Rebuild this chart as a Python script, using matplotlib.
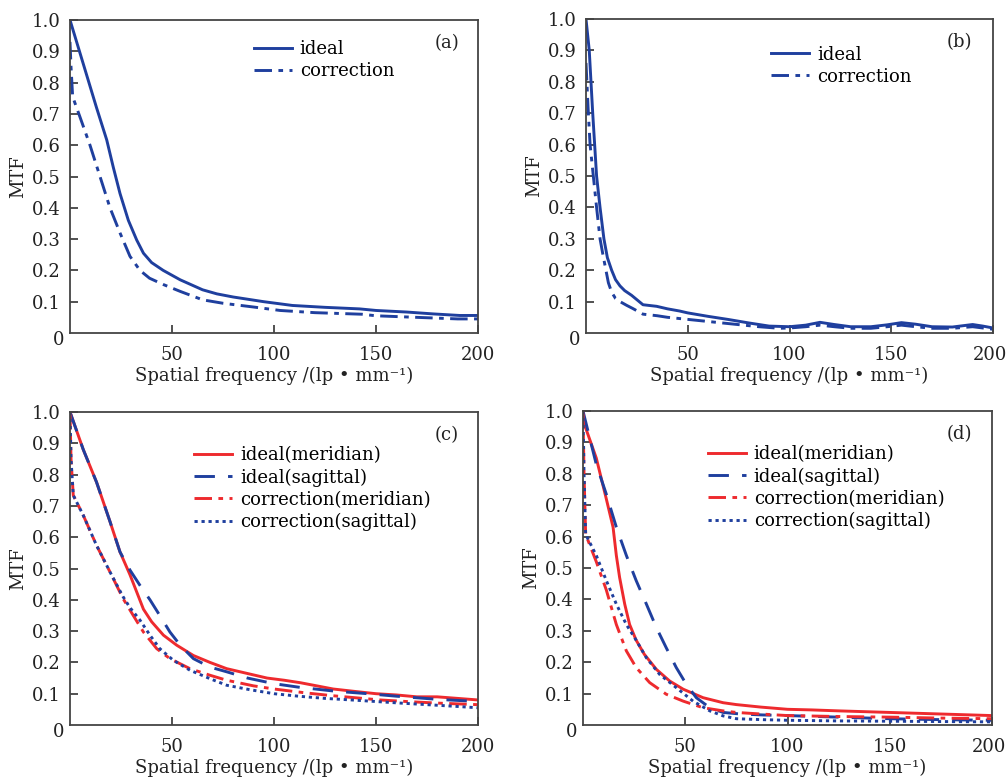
import matplotlib
matplotlib.use("Agg")
import matplotlib.pyplot as plt
import matplotlib.transforms as mtransforms
from matplotlib.ticker import FixedLocator, FixedFormatter

plt.rcParams['font.family'] = ['DejaVu Serif']

BLUE = '#1f3f9e'
RED = '#ee2a2e'

# ---------------- data ----------------
# (a)
a_ideal_f = [0, 6.5, 13, 18, 21.2, 24.5, 28.6, 32.7, 36, 40, 45.7, 54, 65, 72, 80, 95, 109, 125, 142, 150, 165, 178, 191, 200]
a_ideal_v = [1.0, 0.86, 0.72, 0.617, 0.53, 0.446, 0.36, 0.297, 0.255, 0.225, 0.2, 0.17, 0.138, 0.125, 0.115, 0.1, 0.088, 0.082, 0.077, 0.072, 0.067, 0.061, 0.056, 0.056]
a_corr_f = [0, 0.5, 1.3, 4.9, 9.8, 14.7, 19.6, 24.5, 29.4, 34.3, 39, 45.7, 54, 65, 75, 90, 103, 120, 143, 150, 170, 190, 200]
a_corr_v = [0.93, 0.85, 0.755, 0.69, 0.6, 0.5, 0.4, 0.32, 0.245, 0.2, 0.175, 0.155, 0.133, 0.106, 0.095, 0.083, 0.072, 0.065, 0.06, 0.055, 0.05, 0.045, 0.045]

# (b)
b_ideal_f = [0, 1.6, 3.3, 5.2, 6.9, 8.8, 10.5, 12.6, 14.5, 16.7, 19, 22.4, 28, 34.7, 40, 46, 50, 60, 70, 80, 90, 100,
             108, 115, 122, 130, 140, 148, 155, 162, 170, 180, 185, 190, 195, 200]
b_ideal_v = [1.0, 0.9, 0.7, 0.5, 0.4, 0.3, 0.24, 0.2, 0.17, 0.15, 0.135, 0.12, 0.09, 0.085, 0.077, 0.07, 0.064, 0.053, 0.043, 0.032, 0.022, 0.02,
             0.025, 0.034, 0.027, 0.02, 0.02, 0.026, 0.033, 0.028, 0.02, 0.019, 0.023, 0.027, 0.022, 0.016]
b_corr_f = [0, 1, 2, 3.6, 5.2, 6.9, 8.3, 9.8, 11, 12.6, 14.5, 16.7, 20, 23, 28, 35, 40, 55, 70, 85, 95, 100,
            108, 115, 122, 130, 140, 148, 155, 162, 170, 180, 190, 200]
b_corr_v = [0.86, 0.72, 0.6, 0.5, 0.4, 0.3, 0.25, 0.2, 0.16, 0.13, 0.11, 0.1, 0.088, 0.078, 0.06, 0.055, 0.05, 0.04, 0.03, 0.02, 0.015, 0.016,
            0.02, 0.025, 0.02, 0.015, 0.015, 0.02, 0.025, 0.02, 0.015, 0.015, 0.02, 0.012]

# (c)
c_im_f = [0, 6.5, 13, 19.6, 24.5, 29.4, 32.7, 36, 40, 45.8, 52.3, 60.5, 68.6, 76.8, 88, 96.6, 105, 113, 121, 129, 140, 150, 160, 170, 180, 190, 200]
c_im_v = [1.0, 0.88, 0.776, 0.65, 0.553, 0.48, 0.425, 0.37, 0.33, 0.287, 0.255, 0.222, 0.2, 0.18, 0.163, 0.15, 0.143, 0.135, 0.125, 0.115, 0.107, 0.1, 0.096, 0.09, 0.09, 0.085, 0.08]
c_is_f = [0, 6.5, 13, 19.6, 24.5, 29.4, 34.3, 39.2, 44, 49, 54, 60.5, 68.6, 76.8, 87, 100, 113, 130, 146, 160, 180, 200]
c_is_v = [1.0, 0.88, 0.776, 0.65, 0.553, 0.495, 0.446, 0.4, 0.35, 0.297, 0.255, 0.212, 0.185, 0.17, 0.15, 0.132, 0.12, 0.108, 0.1, 0.092, 0.082, 0.075]
c_cm_f = [0, 0.5, 1.6, 6.5, 13, 19.6, 26, 31, 36, 42.5, 49, 58.8, 68.6, 76.8, 90, 100, 115, 128, 140, 152, 165, 180, 200]
c_cm_v = [1.0, 0.85, 0.734, 0.67, 0.574, 0.489, 0.404, 0.35, 0.297, 0.244, 0.212, 0.18, 0.159, 0.143, 0.125, 0.115, 0.103, 0.094, 0.087, 0.08, 0.075, 0.07, 0.065]
c_cs_f = [0, 0.5, 1.6, 6.5, 13, 19.6, 26, 29.4, 34.3, 39.2, 44, 50.6, 58.8, 68.6, 76.8, 88, 100, 112, 125, 138, 150, 162, 175, 188, 200]
c_cs_v = [1.0, 0.85, 0.734, 0.67, 0.574, 0.489, 0.41, 0.375, 0.335, 0.287, 0.244, 0.207, 0.175, 0.148, 0.127, 0.113, 0.1, 0.092, 0.085, 0.08, 0.075, 0.07, 0.065, 0.06, 0.055]

# (d)
d_im_f = [0, 6.5, 11.4, 14.7, 16.3, 17.9, 20.4, 22.8, 26, 30, 35.9, 42.4, 49, 58.7, 68.5, 75, 87, 100, 112, 125, 150, 175, 200]
d_im_v = [0.97, 0.85, 0.72, 0.63, 0.54, 0.47, 0.385, 0.32, 0.27, 0.225, 0.177, 0.14, 0.114, 0.087, 0.071, 0.065, 0.057, 0.05, 0.048, 0.045, 0.04, 0.035, 0.03]
d_is_f = [0, 6.5, 11.4, 16.3, 21.2, 26, 31, 35.9, 40.7, 45.6, 50.5, 55.4, 62, 68.5, 77, 88, 100, 125, 150, 175, 200]
d_is_v = [1.0, 0.83, 0.735, 0.63, 0.54, 0.46, 0.385, 0.31, 0.246, 0.183, 0.13, 0.087, 0.055, 0.04, 0.035, 0.032, 0.03, 0.025, 0.02, 0.017, 0.015]
d_cm_f = [0, 0.5, 1.3, 6.5, 11.4, 16.3, 21.2, 26, 32.6, 40.7, 49, 58.7, 68.5, 75, 87, 100, 125, 150, 175, 200]
d_cm_v = [1.0, 0.8, 0.607, 0.52, 0.43, 0.32, 0.236, 0.183, 0.135, 0.098, 0.076, 0.055, 0.045, 0.04, 0.035, 0.03, 0.027, 0.025, 0.022, 0.02]
d_cs_f = [0, 0.5, 1.3, 6.5, 11.4, 16.3, 21.2, 26, 31, 37.5, 45.6, 53.8, 62, 68.5, 75, 88, 100, 125, 150, 175, 200]
d_cs_v = [1.0, 0.8, 0.607, 0.54, 0.46, 0.385, 0.32, 0.27, 0.214, 0.161, 0.119, 0.076, 0.045, 0.029, 0.02, 0.017, 0.015, 0.013, 0.012, 0.011, 0.01]

x_ticks = [50, 100, 150, 200]
y_ticks = [0.1, 0.2, 0.3, 0.4, 0.5, 0.6, 0.7, 0.8, 0.9, 1.0]
labels2 = ['ideal', 'correction']
labels4 = ['ideal(meridian)', 'ideal(sagittal)', 'correction(meridian)', 'correction(sagittal)']
panel_tags = ['(a)', '(b)', '(c)', '(d)']
x_title = 'Spatial frequency /(lp \u2022 mm\u207b\u00b9)'
y_title = 'MTF'

# ---------------- figure ----------------
W, H = 1007, 779
fig = plt.figure(figsize=(W / 100, H / 100), dpi=100)

def px_axes(l, t, r, b):
    return fig.add_axes([l / W, 1 - b / H, (r - l) / W, (b - t) / H])

axs = [px_axes(70, 20, 478, 333), px_axes(586, 19, 993, 333),
       px_axes(70, 412, 478, 725), px_axes(583, 411, 992, 725)]

FS = 13
LW = 2.1
SOLID = '-'
DASHDOT = (0, (6, 2.2, 1.6, 2.2))
DASHED = (0, (7, 4.5))
DOTTED = (0, (1.1, 1.3))

def style(ax, tag, tagx, nudge_last=False):
    ax.set_xlim(0, 200)
    ax.set_ylim(0, 1.0)
    ax.xaxis.set_major_locator(FixedLocator(x_ticks))
    ax.xaxis.set_major_formatter(FixedFormatter([str(t) for t in x_ticks]))
    ax.yaxis.set_major_locator(FixedLocator(y_ticks))
    ax.yaxis.set_major_formatter(FixedFormatter(['%.1f' % t for t in y_ticks]))
    ax.tick_params(direction='in', length=6, width=1.2, colors='#333333',
                   labelcolor='#222222', labelsize=FS, pad=7)
    ax.tick_params(axis='x', pad=9)
    for s in ax.spines.values():
        s.set_color('#444444')
        s.set_linewidth(1.3)
    ax.set_xlabel(x_title, fontsize=FS, color='#222222', labelpad=2)
    ax.set_ylabel(y_title, fontsize=FS, color='#222222', labelpad=3)
    ax.annotate('0', xy=(0, 0), xycoords='axes fraction', xytext=(-8, -5),
                textcoords='offset points', ha='center', va='center', fontsize=FS, color='#222222')
    ax.text(tagx, 0.925, tag, transform=ax.transAxes, ha='center', va='center', fontsize=FS, color='#222222')
    if nudge_last:
        lab = ax.get_xticklabels()[-1]
        lab.set_transform(lab.get_transform() +
                          mtransforms.ScaledTranslation(-3 / 100, 0, fig.dpi_scale_trans))

LEG = dict(loc='upper left', frameon=False, fontsize=FS, handlelength=2.1, handletextpad=0.45,
           labelspacing=0.22, borderpad=0, borderaxespad=0)

# (a)
ax = axs[0]
ax.plot(a_ideal_f, a_ideal_v, color=BLUE, lw=LW, ls=SOLID, label=labels2[0])
ax.plot(a_corr_f, a_corr_v, color=BLUE, lw=LW, ls=DASHDOT, label=labels2[1])
style(ax, panel_tags[0], 0.924)
ax.legend(bbox_to_anchor=(0.45, 0.936), **LEG)

# (b)
ax = axs[1]
ax.plot(b_ideal_f, b_ideal_v, color=BLUE, lw=LW, ls=SOLID, label=labels2[0])
ax.plot(b_corr_f, b_corr_v, color=BLUE, lw=LW, ls=DASHDOT, label=labels2[1])
style(ax, panel_tags[1], 0.918, nudge_last=True)
ax.legend(bbox_to_anchor=(0.455, 0.915), **LEG)

# (c)
ax = axs[2]
ax.plot(c_im_f, c_im_v, color=RED, lw=LW, ls=SOLID, label=labels4[0])
ax.plot(c_is_f, c_is_v, color=BLUE, lw=LW, ls=DASHED, label=labels4[1])
ax.plot(c_cm_f, c_cm_v, color=RED, lw=LW, ls=DASHDOT, label=labels4[2])
ax.plot(c_cs_f, c_cs_v, color=BLUE, lw=LW, ls=DOTTED, label=labels4[3])
style(ax, panel_tags[2], 0.924)
ax.legend(bbox_to_anchor=(0.305, 0.89), **LEG)

# (d)
ax = axs[3]
ax.plot(d_im_f, d_im_v, color=RED, lw=LW, ls=SOLID, label=labels4[0])
ax.plot(d_is_f, d_is_v, color=BLUE, lw=LW, ls=DASHED, label=labels4[1])
ax.plot(d_cm_f, d_cm_v, color=RED, lw=LW, ls=DASHDOT, label=labels4[2])
ax.plot(d_cs_f, d_cs_v, color=BLUE, lw=LW, ls=DOTTED, label=labels4[3])
style(ax, panel_tags[3], 0.92, nudge_last=True)
ax.legend(bbox_to_anchor=(0.305, 0.89), **LEG)

fig.savefig('out.png', dpi=100)
